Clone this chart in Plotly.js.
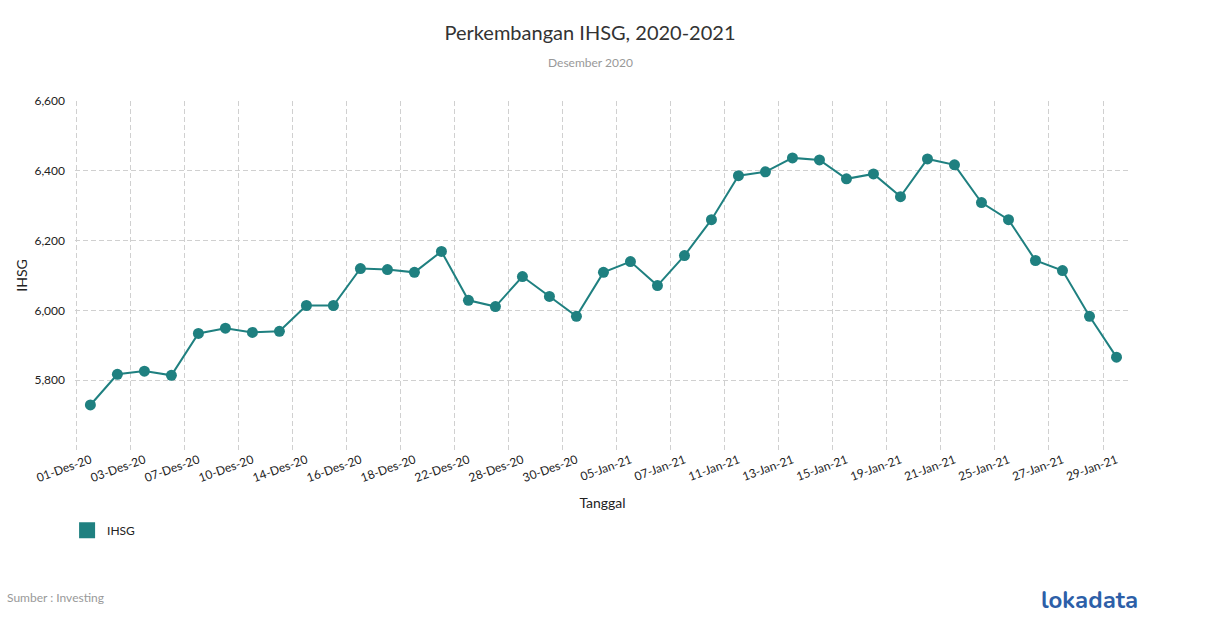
<!DOCTYPE html>
<html>
<head>
<meta charset="utf-8">
<script src="https://cdn.plot.ly/plotly-3.0.1.min.js"></script>
<style>
  html, body { margin: 0; padding: 0; background: #fff; }
  #chart { width: 1210px; height: 628px; }
</style>
</head>
<body>
<div id="chart"></div>
<script>
// hari bursa Des 2020 - Jan 2021
let tanggal = [
  "01-Des-20", "02-Des-20", "03-Des-20", "04-Des-20", "07-Des-20", "08-Des-20",
  "10-Des-20", "11-Des-20", "14-Des-20", "15-Des-20", "16-Des-20", "17-Des-20",
  "18-Des-20", "21-Des-20", "22-Des-20", "23-Des-20", "28-Des-20", "29-Des-20",
  "30-Des-20", "04-Jan-21", "05-Jan-21", "06-Jan-21", "07-Jan-21", "08-Jan-21",
  "11-Jan-21", "12-Jan-21", "13-Jan-21", "14-Jan-21", "15-Jan-21", "18-Jan-21",
  "19-Jan-21", "20-Jan-21", "21-Jan-21", "22-Jan-21", "25-Jan-21", "26-Jan-21",
  "27-Jan-21", "28-Jan-21", "29-Jan-21"
];
let ihsg = [
  5729, 5817, 5826, 5814, 5934, 5949,
  5937, 5940, 6014, 6014, 6120, 6117,
  6109, 6169, 6029, 6011, 6097, 6040,
  5983, 6109, 6140, 6071, 6157, 6260,
  6386, 6397, 6437, 6431, 6377, 6391,
  6326, 6434, 6417, 6309, 6260, 6143,
  6114, 5983, 5866
];
let yTicks = [5600, 5800, 6000, 6200, 6400, 6600];
let yTickText = ["", "5,800", "6,000", "6,200", "6,400", "6,600"];

const warna = "#1f8080";
const font = "Lato, 'Open Sans', sans-serif";
const abu = '#d0d0d0';

let garis = {
  x: tanggal,
  y: ihsg,
  type: 'scatter',
  mode: 'lines+markers',
  name: 'IHSG',
  showlegend: false,
  line: {color: warna, width: 2},
  marker: {color: warna, size: 11},
  hoverinfo: 'x+y'
};
// cuma buat kotak legenda
let legenda = {
  x: [null],
  y: [null],
  type: 'scatter',
  mode: 'markers',
  name: 'IHSG',
  marker: {color: warna, symbol: 'square', size: 17},
  xaxis: 'x2',
  yaxis: 'y2'
};

let layout = {
  width: 1210,
  height: 628,
  paper_bgcolor: '#fff',
  plot_bgcolor: '#fff',
  font: {family: font, size: 12, color: '#333'},
  title: {
    text: 'Perkembangan IHSG, 2020-2021',
    font: {family: font, size: 20, color: '#333'},
    xref: 'container', x: 0.4876, xanchor: 'center',
    yref: 'container', y: 0.947, yanchor: 'middle'
  },
  margin: {l: 75, r: 80, t: 101, b: 178, pad: 0},
  xaxis: {
    type: 'category',
    // sedikit lebih lebar dari -0.5 supaya garis grid pertama tidak terpotong
    range: [-0.57, 38.5],
    tickmode: 'linear',
    tick0: 0,
    dtick: 2,
    tickson: 'boundaries',
    tickangle: -20,
    ticks: '',
    showgrid: true,
    gridcolor: abu,
    griddash: '5px,3px',
    gridwidth: 1,
    zeroline: false,
    showline: false,
    tickfont: {family: font, size: 12, color: '#222'},
    title: {text: 'Tanggal', font: {family: font, size: 14, color: '#222'}, standoff: 14}
  },
  yaxis: {
    range: [5600, 6600],
    tickmode: 'array',
    tickvals: yTicks,
    ticktext: yTickText,
    ticklabelstandoff: 9,
    showgrid: true,
    gridcolor: abu,
    griddash: '5px,3px',
    gridwidth: 1,
    zeroline: false,
    showline: false,
    tickfont: {family: font, size: 12, color: '#222'},
    title: {text: 'IHSG', font: {family: font, size: 14, color: '#222'}, standoff: 3}
  },
  xaxis2: {visible: false, overlaying: 'x', range: [0, 1]},
  yaxis2: {visible: false, overlaying: 'y', range: [0, 1]},
  legend: {
    orientation: 'h',
    x: -0.0075, xanchor: 'left',
    y: -0.23, yanchor: 'middle',
    font: {family: font, size: 12, color: '#222'}
  },
  annotations: [
    {
      text: 'Desember 2020',
      xref: 'paper', yref: 'paper',
      x: 0.4882, y: 1.1117,
      xanchor: 'center', yanchor: 'middle',
      showarrow: false,
      font: {family: font, size: 12, color: '#999'}
    },
    {
      text: 'Sumber : Investing',
      xref: 'paper', yref: 'paper',
      x: -0.0664, y: -0.424,
      xanchor: 'left', yanchor: 'middle',
      showarrow: false,
      font: {family: font, size: 12, color: '#999'}
    },
    {
      text: '<b>lokadata</b>',
      xref: 'paper', yref: 'paper',
      x: 0.962, y: -0.43,
      xanchor: 'center', yanchor: 'middle',
      showarrow: false,
      font: {family: 'Nunito, Lato, sans-serif', size: 24, color: '#2d5fa8'}
    }
  ]
};

Plotly.newPlot('chart', [garis, legenda], layout, {displayModeBar: false});
</script>
</body>
</html>
